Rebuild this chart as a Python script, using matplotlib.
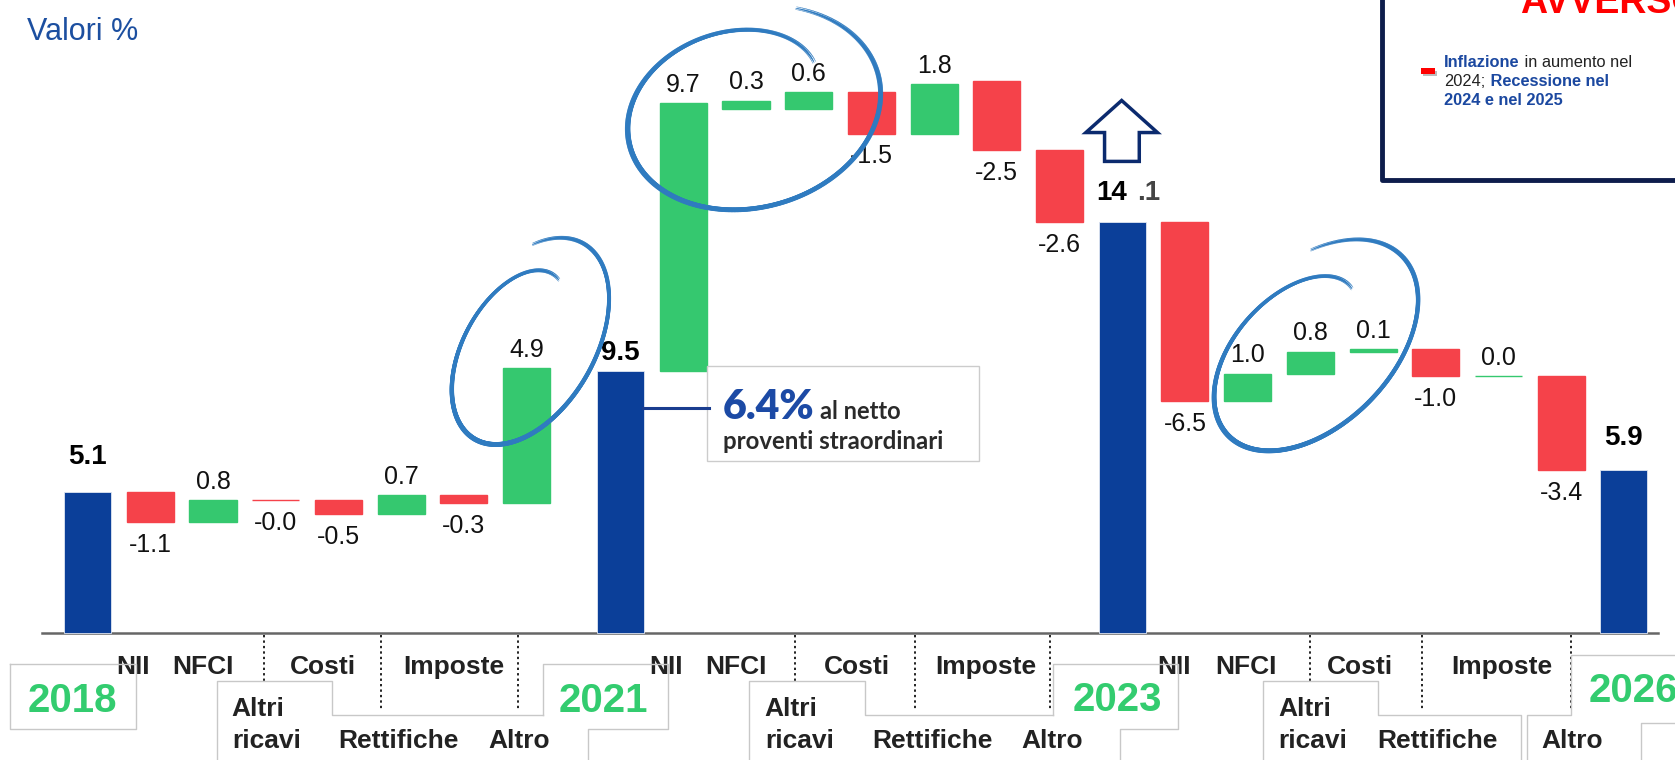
import numpy as np
import matplotlib
matplotlib.use("Agg")
import matplotlib.pyplot as plt
from matplotlib.collections import LineCollection
from matplotlib.patches import Polygon, Rectangle
from matplotlib.transforms import blended_transform_factory

plt.rcParams["font.family"] = ["Liberation Sans", "DejaVu Sans"]

# ---- data ----
years = ["2018", "2021", "2023", "2026"]
totals = [5.1, 9.5, 14.9, 5.9]
total_text = ["5.1", "9.5", "14 .1", "5.9"]

steps_2018_21 = [-1.1, 0.8, -0.0, -0.5, 0.7, -0.3, 4.9]
steps_2021_23 = [9.7, 0.3, 0.6, -1.5, 1.8, -2.5, -2.6]
steps_2023_26 = [-6.5, 1.0, 0.8, 0.1, -1.0, 0.0, -3.4]
steps = [steps_2018_21, steps_2021_23, steps_2023_26]

# level each floating bar starts from, as drawn in the chart
start_2018_21 = [5.1, 4.0, 4.8, 4.8, 4.3, 5.0, 4.7]
start_2021_23 = [9.5, 19.0, 19.0, 19.6, 18.1, 20.0, 17.5]
start_2023_26 = [14.9, 8.4, 9.4, 10.2, 10.3, 9.3, 9.3]
starts = [start_2018_21, start_2021_23, start_2023_26]

top_row = ["NII", "NFCI", "Costi", "Imposte"]
bottom_row = ["ricavi", "Rettifiche", "Altro"]

BLUE = "#0b3f99"
RED = "#f5424a"
GREEN = "#35c86f"
SCRIBBLE = "#2f7bc0"
YEAR_GREEN = "#33cc6f"
TXT = "#222222"

# reference grid in pixels (image drawn at 1568x711, saved at 1675x760)
W, H = 1568, 711

fig = plt.figure(figsize=(16.75, 7.6), dpi=100)
ax = fig.add_axes([0, 0, 1, 1])
ax.set_xlim(-1.397, 25.315)
ax.set_ylim(-4.612, 22.946)
ax.axis("off")

ov = fig.add_axes([0, 0, 1, 1], zorder=3)
ov.set_xlim(0, W)
ov.set_ylim(H, 0)
ov.axis("off")
ov.patch.set_alpha(0)

trans = blended_transform_factory(ax.transData, ov.transData)

total_x = [0, 8.5, 16.5, 24.5]
group_x = [1, 9.5, 17.5]
bw = 0.75

# baseline
ax.plot([-0.73, 25.04], [0, 0], color="#666666", lw=1.8, zorder=1)

# totals
ax.bar(total_x, totals, width=bw, color=BLUE, edgecolor="#dfe6f2", lw=0.6, zorder=2)
gaps = [1.28, 0.66, 1.05, 1.16]
for x, v, s, g in zip(total_x, totals, total_text, gaps):
    if " " in s:
        a, b = s.split(" ")
        ax.text(x + 0.07, v + g, a, ha="right", va="center", fontsize=20,
                fontweight="bold", color="black")
        ax.text(x + 0.23, v + g, b, ha="left", va="center", fontsize=20,
                fontweight="bold", color="#444444")
    else:
        ax.text(x, v + g, s, ha="center", va="center", fontsize=20,
                fontweight="bold", color="black")

# floating bars
for gi, deltas in enumerate(steps):
    for j, d in enumerate(deltas):
        x = group_x[gi] + j
        level = starts[gi][j]
        neg = np.signbit(d)
        c = RED if neg else GREEN
        ax.bar(x, d, bottom=level, width=bw, color=c, edgecolor=c, lw=1.0, zorder=2)
        top, bot = max(level, level + d), min(level, level + d)
        if neg:
            ax.text(x, bot - 0.82, f"{d:.1f}", ha="center", va="center",
                    fontsize=18, color="#111111")
        else:
            ax.text(x, top + 0.66, f"{d:.1f}", ha="center", va="center",
                    fontsize=18, color="#111111")

# category labels under the axis
top_off = [[-0.28, 0.84, 2.76, 4.84], [-0.27, 0.84, 2.77, 4.83], [-0.17, 0.97, 2.79, 5.06]]
altri_off = [1.30, 1.30, 1.49]
bot_off = [[None, 3.96, 5.88], [None, 3.98, 5.88], [None, 4.03, 6.18]]
sep_off = [[1.81, 3.68, 5.87], [1.78, 3.70, 5.85], [1.99, 3.78, 6.16]]
lab = dict(fontsize=19, fontweight="bold", color=TXT, transform=trans, zorder=4)
for gi in range(3):
    g0 = group_x[gi]
    for name, o in zip(top_row, top_off[gi]):
        ax.text(g0 + o, 631, name, ha="center", va="baseline", **lab)
    ax.text(g0 + altri_off[gi], 670, "Altri", ha="left", va="baseline", **lab)
    ax.text(g0 + altri_off[gi], 700, bottom_row[0], ha="left", va="baseline", **lab)
    for name, o in zip(bottom_row[1:], bot_off[gi][1:]):
        ax.text(g0 + o, 700, name, ha="center", va="baseline", **lab)
    for k, o in enumerate(sep_off[gi]):
        ax.plot([g0 + o, g0 + o], [594, 637 if k == 0 else 664], color="#222222",
                lw=1.4, ls=(0, (1.2, 1.6)), transform=trans, zorder=2)

# year boxes (pasted label frames)
frames = [
    [(9, 621), (127, 621), (127, 682), (9, 682), (9, 621)],
    [(203, 711), (203, 637), (311, 637), (311, 669), (508, 669)],
    [(508, 669), (508, 621), (625, 621), (625, 682), (550, 682), (550, 711)],
    [(701, 711), (701, 637), (810, 637), (810, 669), (986, 669)],
    [(986, 669), (986, 621), (1103, 621), (1103, 682), (1048, 682), (1048, 711)],
    [(1182, 711), (1182, 637), (1290, 637), (1290, 669), (1424, 669), (1424, 711)],
    [(1429, 711), (1429, 669), (1471, 669), (1471, 613), (1570, 613)],
    [(1536, 711), (1536, 676), (1570, 676)],
]
for fr in frames:
    xs, ys = zip(*fr)
    ov.plot(xs, ys, color="#c8c8c8", lw=1.0, zorder=1)

year_pos = [(68, 666, "center"), (565, 666, "center"), (1046, 665, "center"), (1487, 657, "left")]
for y, (px, py, ha) in zip(years, year_pos):
    ov.text(px, py, y, ha=ha, va="baseline", fontsize=29, fontweight="bold",
            color=YEAR_GREEN)

# title
ov.text(25, 37, "Valori %", ha="left", va="baseline", fontsize=22, color="#1c4fa0")

# hollow arrow above 2023
arrow = [(1050, 94), (1083.5, 124), (1066.5, 124), (1066.5, 151),
         (1034, 151), (1034, 124), (1016.5, 124)]
ov.add_patch(Polygon(arrow, closed=True, fill=False, edgecolor="#0b2a6e",
                     lw=2.5, joinstyle="miter"))

renderer = fig.canvas.get_renderer()


def run_text(x, y, parts, **common):
    for s, kw in parts:
        t = ov.text(x, y, s, ha="left", va="baseline", **common, **kw)
        bb = t.get_window_extent(renderer)
        x = ov.transData.inverted().transform((bb.x1, bb.y0))[0]


# annotation box
ov.add_patch(Rectangle((662, 342), 254, 89, facecolor="white", edgecolor="#cccccc",
                       lw=1.0, zorder=1))
ov.plot([602, 664], [382, 382], color="#1a3d8f", lw=2.2, zorder=2)
ov.text(677, 392, "6.4%", ha="left", va="baseline", fontsize=29.5, family="Lato",
        fontweight="heavy", color="#1c4aa5", zorder=3)
ov.text(768, 392, "al netto", ha="left", va="baseline", fontsize=17, family="Lato",
        fontweight="bold", color="#2a2a2a", zorder=3)
ov.text(677, 420, "proventi straordinari", ha="left", va="baseline", fontsize=17.3,
        family="Lato", fontweight="bold", color="#2a2a2a", zorder=3)

# scenario box top right
ov.plot([1294, 1294, 1580], [-10, 168, 168], color="#0e1d4c", lw=3.5,
        solid_joinstyle="round")
ov.text(1423, 12, "AVVERSO", ha="left", va="baseline", fontsize=27,
        fontweight="bold", color="#ff0000")
ov.add_patch(Rectangle((1332, 66), 13, 5, facecolor="#bbbbbb", edgecolor="none"))
ov.add_patch(Rectangle((1330, 64), 13, 5, facecolor="#ff0000", edgecolor="none"))
blue_b = dict(fontweight="bold", color="#1b48a0")
plain = dict(color="#222222")
run_text(1352, 62.5, [("Inflazione", blue_b), (" in aumento nel", plain)], fontsize=11.8)
run_text(1352, 80.5, [("2024;", plain), (" Recessione nel", blue_b)], fontsize=11.8)
run_text(1352, 98, [("2024 e nel 2025", blue_b)], fontsize=11.8)


# hand drawn circles
def scribble(cx, cy, a, b, ang_deg, t0, t1, s0, s1):
    t = np.linspace(0, 1, 600)
    th = np.radians(t0 + (t1 - t0) * t)
    ang = np.radians(ang_deg)
    for ds, wmax, alpha in [(0.0, 3.0, 0.95), (0.015, 1.3, 0.8), (-0.012, 1.1, 0.7)]:
        s = s1 - (s1 - s0) * np.exp(-t / 0.22) + 0.06 * t + ds
        ex = a * s * np.cos(th)
        ey = b * s * np.sin(th)
        X = cx + ex * np.cos(ang) - ey * np.sin(ang)
        Y = cy - (ex * np.sin(ang) + ey * np.cos(ang))
        pts = np.column_stack([X, Y]).reshape(-1, 1, 2)
        segs = np.concatenate([pts[:-1], pts[1:]], axis=1)
        w = 0.3 + wmax * np.sin(np.pi * t[:-1]) ** 0.5
        lc = LineCollection(segs, linewidths=w, colors=SCRIBBLE, alpha=alpha,
                            capstyle="round", zorder=5)
        ov.add_collection(lc)


scribble(701, 103, 120, 90, 15, 27, 418, 0.66, 1.0)
scribble(493, 322, 105, 63, 60, 5, 400, 0.64, 0.98)
scribble(1227, 326, 112, 70, 45, 16, 418, 0.62, 1.04)

fig.savefig("out.png", dpi=100)
